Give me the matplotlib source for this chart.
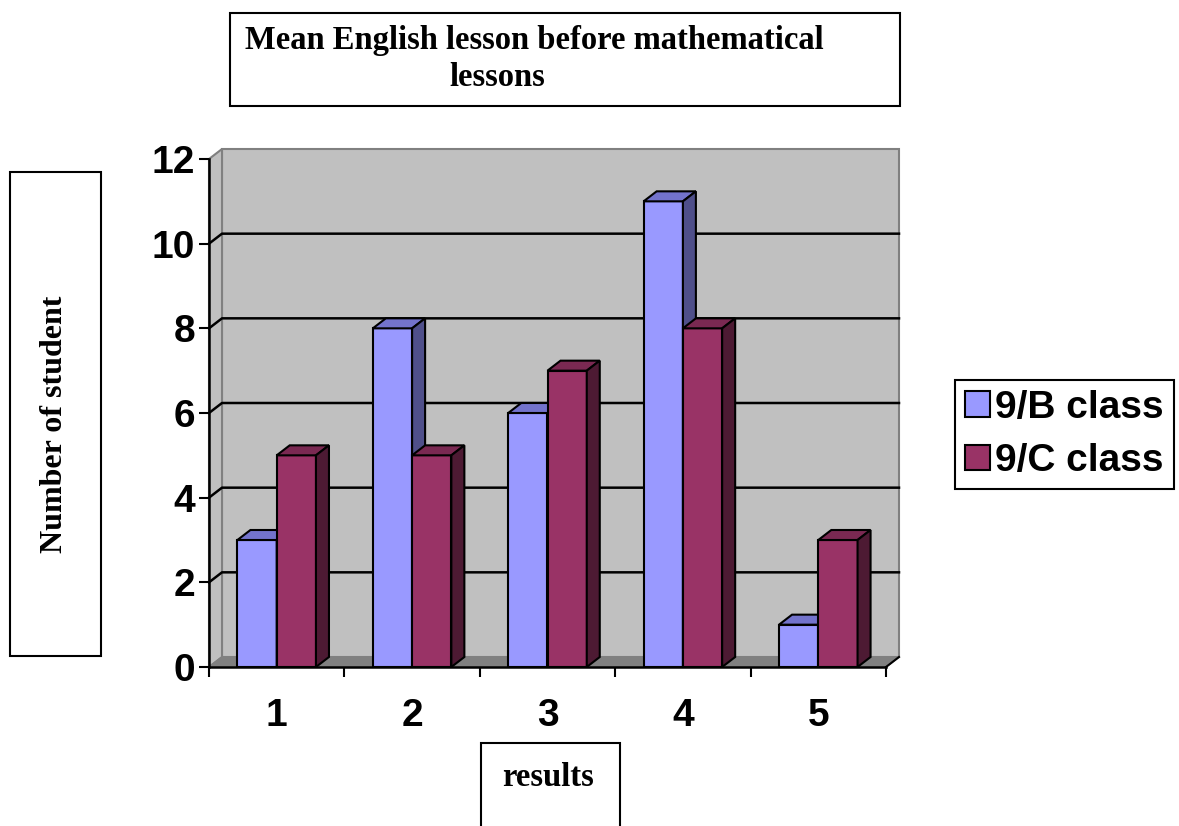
import matplotlib

matplotlib.use("Agg")
import matplotlib.pyplot as plt
import numpy as np
from matplotlib.lines import Line2D
from matplotlib.patches import Patch, Polygon, Rectangle

categories = ["1", "2", "3", "4", "5"]
class_b = [3, 8, 6, 11, 1]
class_c = [5, 5, 7, 8, 3]
series_names = ["9/B class", "9/C class"]
y_ticks = [0, 2, 4, 6, 8, 10, 12]

title_lines = ["Mean English lesson before mathematical", "lessons"]
x_title = "results"
y_title = "Number of student"

# colours: front, top, side
blue = ("#9999FF", "#7373CC", "#4F4F8A")
red = ("#993366", "#7A2952", "#4D1A33")
wall = "#C0C0C0"
floor = "#808080"
edge_grey = "#808080"

SERIF = "Liberation Serif"
SANS = "Liberation Sans"

W, H = 1179, 826
fig = plt.figure(figsize=(W / 100, H / 100), dpi=100)
ax = fig.add_axes([209 / W, 1 - 667 / H, 677 / W, 508 / H])
ax.set_xlim(0, len(categories))
ax.set_ylim(0, 12)
ax.patch.set_visible(False)

# depth of the fake 3d box, in pixels -> data units
dx = 13 * len(categories) / 677
dy = 10 * 12 / 508
x_max = len(categories)
y_max = y_ticks[-1]

# walls and floor
ax.add_patch(Rectangle((dx, dy), x_max, y_max, fc=wall, ec=edge_grey, lw=1.5, zorder=0, clip_on=False))
ax.add_patch(Polygon([(0, 0), (dx, dy), (dx, y_max + dy), (0, y_max)], closed=True,
                     fc=wall, ec=edge_grey, lw=1.5, zorder=0, clip_on=False))
ax.add_patch(Polygon([(0, 0), (x_max, 0), (x_max + dx, dy), (dx, dy)], closed=True,
                     fc=floor, ec=edge_grey, lw=1.2, zorder=0.5, clip_on=False))
ax.add_line(Line2D([x_max, x_max + dx], [0, dy], color="black", lw=1.5, zorder=1, clip_on=False))

# gridlines on the back wall plus the short diagonals on the side wall
for t in y_ticks[1:-1]:
    ax.add_line(Line2D([0, dx, x_max + dx], [t, t + dy, t + dy], color="black", lw=1.8,
                       zorder=1, clip_on=False))

# bars
x = np.arange(len(categories))
w = 0.29
bars_b = ax.bar(x + 0.5 - w, class_b, w, align="edge", color=blue[0], edgecolor="black",
                linewidth=1.5, zorder=3, label=series_names[0])
bars_c = ax.bar(x + 0.5, class_c, w, align="edge", color=red[0], edgecolor="black",
                linewidth=1.5, zorder=4, label=series_names[1])


def add_depth(bars, colours, z):
    for rect in bars:
        x0, y0 = rect.get_x(), rect.get_y()
        x1, y1 = x0 + rect.get_width(), y0 + rect.get_height()
        top = [(x0, y1), (x1, y1), (x1 + dx, y1 + dy), (x0 + dx, y1 + dy)]
        side = [(x1, y0), (x1 + dx, y0 + dy), (x1 + dx, y1 + dy), (x1, y1)]
        ax.add_patch(Polygon(top, closed=True, fc=colours[1], ec="black", lw=1.5, zorder=z, clip_on=False))
        ax.add_patch(Polygon(side, closed=True, fc=colours[2], ec="black", lw=1.5, zorder=z, clip_on=False))


add_depth(bars_b, blue, 3)
add_depth(bars_c, red, 4)

# axes
for s in ("top", "right"):
    ax.spines[s].set_visible(False)
for s in ("left", "bottom"):
    ax.spines[s].set_linewidth(1.8)
    ax.spines[s].set_zorder(5)

ax.set_yticks(y_ticks)
ax.set_yticklabels([str(t) for t in y_ticks], fontfamily=SANS, fontweight="bold", fontsize=28)
ax.tick_params(axis="y", direction="out", length=7, width=1.5, pad=3)

ax.set_xticks(np.arange(len(categories) + 1))
ax.set_xticklabels([])
ax.set_xticks(x + 0.5, minor=True)
ax.set_xticklabels(categories, minor=True, fontfamily=SANS, fontweight="bold", fontsize=28)
ax.tick_params(axis="x", which="major", direction="out", length=7, width=1.5)
ax.tick_params(axis="x", which="minor", length=0, pad=22)


# boxed titles
def box(x0, y0, x1, y1):
    fig.add_artist(Rectangle((x0 / W, 1 - y1 / H), (x1 - x0) / W, (y1 - y0) / H,
                             transform=fig.transFigure, fc="white", ec="black", lw=1.5))


box(230, 13, 900, 106)
fig.text(534 / W, 1 - 41 / H, title_lines[0], ha="center", va="center",
         fontfamily=SERIF, fontweight="bold", fontsize=23.5)
fig.text(497 / W, 1 - 78 / H, title_lines[1], ha="center", va="center",
         fontfamily=SERIF, fontweight="bold", fontsize=23.5)

box(10, 172, 101, 656)
fig.text(55 / W, 1 - 424 / H, y_title, ha="center", va="center", rotation=90,
         fontfamily=SERIF, fontweight="bold", fontsize=23)

box(481, 743, 620, 830)
fig.text(548 / W, 1 - 777 / H, x_title, ha="center", va="center",
         fontfamily=SERIF, fontweight="bold", fontsize=23.5)

# legend
handles = [Patch(fc=blue[0], ec="black", lw=1.5), Patch(fc=red[0], ec="black", lw=1.5)]
leg = fig.legend(handles, series_names, loc="upper left", bbox_to_anchor=(955 / W, 1 - 380 / H),
                 frameon=True, fancybox=False, edgecolor="black", framealpha=1,
                 prop={"family": SANS, "weight": "bold", "size": 28},
                 handlelength=0.64, handleheight=0.64, handletextpad=0.15,
                 borderpad=0.25, labelspacing=0.45, borderaxespad=0)
leg.get_frame().set_linewidth(1.5)

fig.savefig("out.png", dpi=100)
